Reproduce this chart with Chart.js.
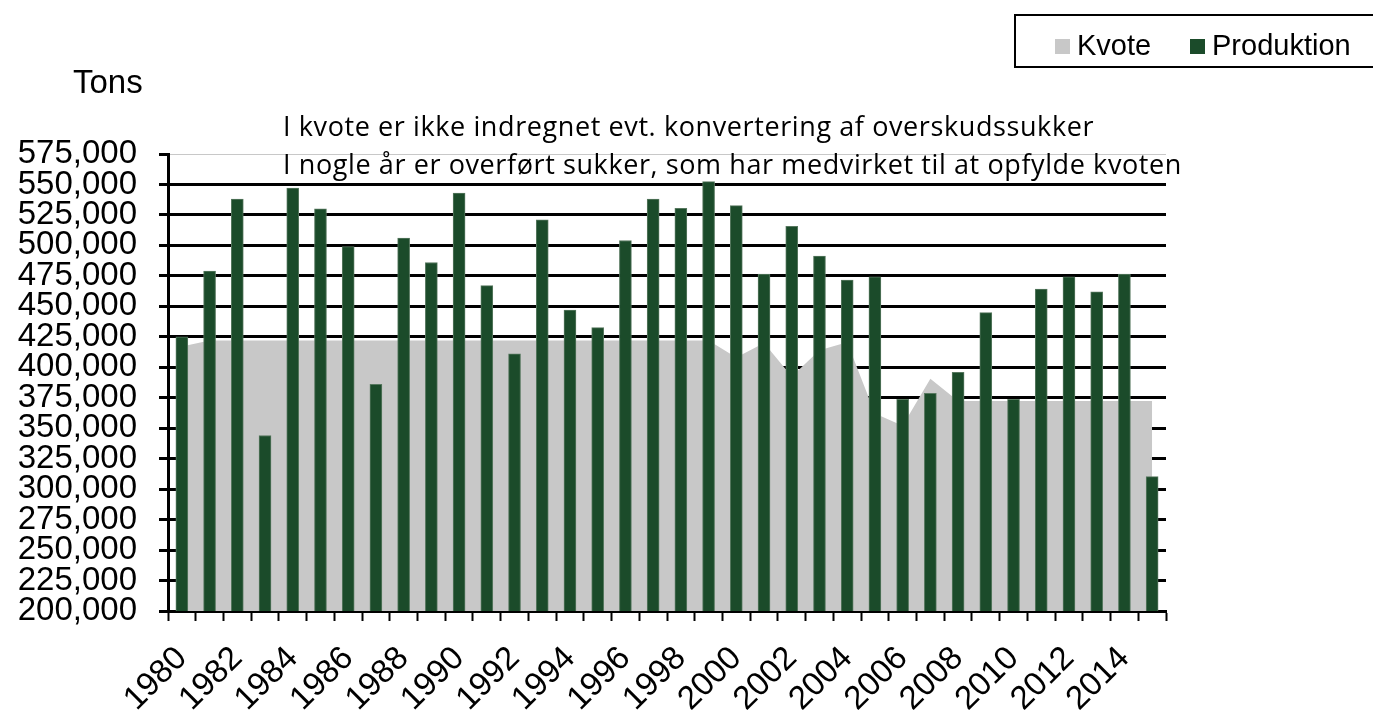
<!DOCTYPE html>
<html>
<head>
<meta charset="utf-8">
<title>Kvote og produktion</title>
<script src="https://cdn.jsdelivr.net/npm/chart.js@4.4.1/dist/chart.umd.min.js"></script>
<style>
  body { margin: 0; background: #fff; overflow: hidden; }
  #wrap { position: relative; width: 1373px; height: 711px; overflow: hidden; }
  #wrap canvas { position: absolute; left: 0; top: 0; }
  .txt { position: absolute; white-space: nowrap; line-height: 1; color: #000; }
  .arial { font-family: 'Liberation Sans', Arial, sans-serif; }
  .note { font-family: 'Open Sans', sans-serif; font-size: 27px; letter-spacing: 0.6px; }
  #legend {
    position: absolute; left: 1014px; top: 14px; width: 400px; height: 50px;
    border: 2px solid #000; font-family: 'Liberation Sans', Arial, sans-serif; font-size: 29px;
  }
  #legend span.box { position: absolute; top: 23px; width: 15px; height: 15px; }
  #legend span.lbl { position: absolute; top: 15px; line-height: 1; }
</style>
</head>
<body>
<div id="wrap">
  <canvas id="sugarChart" width="1373" height="711"></canvas>
  <div class="txt arial" style="left:73px; top:65px; font-size:33px;">Tons</div>
  <div class="txt note" style="left:283px; top:112px;">I kvote er ikke indregnet evt. konvertering af overskudssukker</div>
  <div class="txt note" style="left:283px; top:150px;">I nogle år er overført sukker, som har medvirket til at opfylde kvoten</div>
  <div id="legend">
    <span class="box" style="left:39px; background:#c8c8c8;"></span>
    <span class="lbl" style="left:61px;">Kvote</span>
    <span class="box" style="left:174px; background:#1b4b2a;"></span>
    <span class="lbl" style="left:196px;">Produktion</span>
  </div>
</div>
<script>
// Years on the category axis
const years = ['1980', '1981', '1982', '1983', '1984', '1985', '1986', '1987', '1988', '1989',
  '1990', '1991', '1992', '1993', '1994', '1995', '1996', '1997', '1998', '1999',
  '2000', '2001', '2002', '2003', '2004', '2005', '2006', '2007', '2008', '2009',
  '2010', '2011', '2012', '2013', '2014', '2015']

// Sugar quota (grey area), tons
const kvote = [417000, 422000, 422000, 422000, 422000, 422000, 422000, 422000, 422000, 422000,
  422000, 422000, 422000, 422000, 422000, 422000, 422000, 422000, 422000, 422000,
  408000, 420000, 392500, 414000, 420500, 362000, 352000, 390500, 372400, 372400,
  372400, 372400, 372400, 372400, 372400, 372400]

// Production (green bars), tons
const produktion = [425000, 479000, 538000, 344000, 547000, 530000, 499000, 386000, 506000, 486000,
  543000, 467000, 411000, 521000, 447000, 432500, 504000, 538000, 530400, 552300,
  532600, 476500, 515700, 491300, 471600, 474300, 373700, 378600, 395900, 444800,
  373700, 464200, 474300, 462000, 476500, 310200]

// Value axis range
const yMin = 200000
const yMax = 575000
const yStep = 25000

Chart.defaults.font.family = "'Liberation Sans', Arial, sans-serif"
Chart.defaults.color = '#000'

const ctx = document.getElementById('sugarChart').getContext('2d')
const sugarChart = new Chart(ctx, {
  type: 'bar',
  data: {
    labels: years,
    datasets: [
      {
        label: 'Produktion',
        data: produktion,
        backgroundColor: '#1b4b2a',
        borderColor: '#57785f',
        borderWidth: 1,
        barThickness: 12,
        order: 1
      },
      {
        type: 'line',
        label: 'Kvote',
        data: kvote,
        fill: 'start',
        backgroundColor: '#c8c8c8',
        borderColor: 'rgba(0,0,0,0)',
        borderWidth: 0,
        pointRadius: 0,
        tension: 0,
        order: 2
      }
    ]
  },
  options: {
    responsive: false,
    animation: false,
    devicePixelRatio: 1,
    layout: {
      padding: { top: 154, right: 207, left: 0, bottom: 0 }
    },
    plugins: {
      legend: { display: false },
      tooltip: { enabled: false }
    },
    scales: {
      x: {
        offset: true,
        grid: {
          offset: true,
          drawOnChartArea: false,
          drawTicks: true,
          tickLength: 10,
          tickColor: '#000',
          tickWidth: 2
        },
        border: { display: true, color: '#000', width: 3 },
        ticks: {
          autoSkip: false,
          minRotation: 45,
          maxRotation: 45,
          padding: 18,
          font: { size: 33 },
          callback: (v, i) => (i % 2 === 0 ? years[i] : '')
        },
        afterFit: scale => { scale.height = 100 }
      },
      y: {
        min: yMin,
        max: yMax,
        grid: {
          color: c => (c.tick && c.tick.value === yMax ? '#c8c8c8' : '#000'),
          lineWidth: c => (c.tick && c.tick.value === yMax ? 1 : 3),
          tickLength: 9,
          tickColor: '#000',
          tickWidth: 3
        },
        border: { display: true, color: '#000', width: 3 },
        ticks: {
          autoSkip: false,
          stepSize: yStep,
          padding: 22,
          font: { size: 33 },
          callback: v => v.toLocaleString('en-US')
        },
        afterFit: scale => { scale.width = 168 }
      }
    }
  }
})
</script>
</body>
</html>
